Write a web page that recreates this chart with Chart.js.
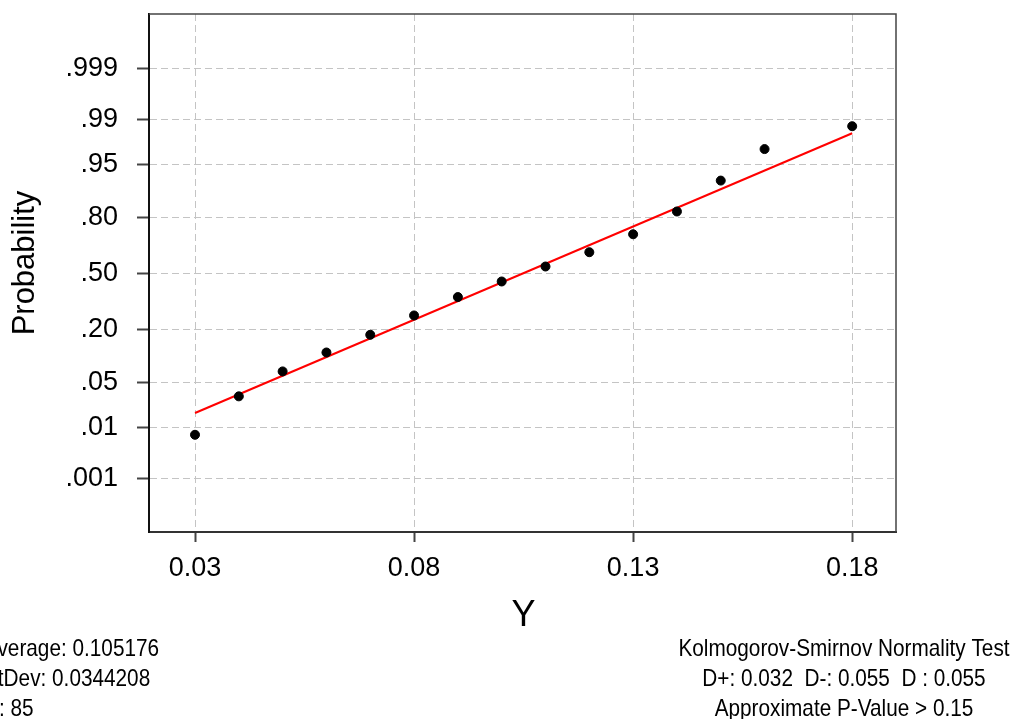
<!DOCTYPE html>
<html>
<head>
<meta charset="utf-8">
<script src="https://cdn.jsdelivr.net/npm/chart.js@4.4.1/dist/chart.umd.min.js"></script>
<style>
  html, body { margin: 0; padding: 0; background: #fff; }
  #wrap { width: 1011px; height: 719px; }
</style>
</head>
<body>
<div id="wrap"><canvas id="probPlot" width="1011" height="719"></canvas></div>
<script>
// observed values and their plotted cumulative probabilities
const yValues = [0.03, 0.04, 0.05, 0.06, 0.07, 0.08, 0.09, 0.10, 0.11, 0.12, 0.13, 0.14, 0.15, 0.16, 0.18];
const cumProb = [0.0075, 0.032, 0.070, 0.117, 0.178, 0.264, 0.362, 0.453, 0.543, 0.627, 0.724, 0.826, 0.920, 0.970, 0.987];

// fitted normal line (end points)
const fitX = [0.03, 0.18];
const fitProb = [0.0177, 0.983];

const probTicks = [0.001, 0.01, 0.05, 0.20, 0.50, 0.80, 0.95, 0.99, 0.999];
const probTickLabels = ['.001', '.01', '.05', '.20', '.50', '.80', '.95', '.99', '.999'];
const xTicks = [0.03, 0.08, 0.13, 0.18];

const statsLeft = ['Average: 0.105176', 'StDev: 0.0344208', 'N: 85'];
const statsRight = ['Kolmogorov-Smirnov Normality Test', 'D+: 0.032  D-: 0.055  D : 0.055', 'Approximate P-Value > 0.15'];

// inverse normal cdf (Acklam)
function probit(p) {
    const a = [-3.969683028665376e+01, 2.209460984245205e+02, -2.759285104469687e+02, 1.383577518672690e+02, -3.066479806614716e+01, 2.506628277459239e+00];
    const b = [-5.447609879822406e+01, 1.615858368580409e+02, -1.556989798598866e+02, 6.680131188771972e+01, -1.328068155288572e+01];
    const c = [-7.784894002430293e-03, -3.223964580411365e-01, -2.400758277161838e+00, -2.549671010229583e+00, 4.374664141464968e+00, 2.938163982698783e+00];
    const d = [7.784695709041462e-03, 3.224671290700398e-01, 2.445134137142996e+00, 3.754408661907416e+00];
    const pLow = 0.02425;
    let q, r;
    if (p < pLow) {
        q = Math.sqrt(-2 * Math.log(p));
        return (((((c[0]*q+c[1])*q+c[2])*q+c[3])*q+c[4])*q+c[5]) / ((((d[0]*q+d[1])*q+d[2])*q+d[3])*q+1);
    }
    if (p <= 1 - pLow) {
        q = p - 0.5; r = q * q;
        return (((((a[0]*r+a[1])*r+a[2])*r+a[3])*r+a[4])*r+a[5])*q / (((((b[0]*r+b[1])*r+b[2])*r+b[3])*r+b[4])*r+1);
    }
    q = Math.sqrt(-2 * Math.log(1 - p));
    return -(((((c[0]*q+c[1])*q+c[2])*q+c[3])*q+c[4])*q+c[5]) / ((((d[0]*q+d[1])*q+d[2])*q+d[3])*q+1);
}

const baseFont = '"Liberation Sans", Arial, sans-serif';
Chart.defaults.font.family = baseFont;
Chart.defaults.color = '#000';

const frameAndText = {
    id: 'frameAndText',
    afterDraw(chart) {
        const { ctx, chartArea: area } = chart;
        ctx.save();
        ctx.strokeStyle = '#444';
        ctx.lineWidth = 1.5;
        ctx.beginPath();
        ctx.moveTo(area.left, area.top);
        ctx.lineTo(area.right, area.top);
        ctx.lineTo(area.right, area.bottom);
        ctx.stroke();

        ctx.fillStyle = '#000';
        ctx.textBaseline = 'alphabetic';
        ctx.textAlign = 'center';
        ctx.font = '36px ' + baseFont;
        ctx.fillText('Y', (area.left + area.right) / 2 + 1, 626);

        ctx.save();
        ctx.translate(34, 263);
        ctx.rotate(-Math.PI / 2);
        ctx.font = '31px ' + baseFont;
        ctx.fillText('Probability', 0, 0);
        ctx.restore();

        // footer stats, drawn horizontally condensed
        const sx = 0.865;
        ctx.save();
        ctx.scale(sx, 1);
        ctx.font = '24px ' + baseFont;
        ctx.textAlign = 'left';
        statsLeft.forEach((t, i) => ctx.fillText(t, -16 / sx, 656 + i * 30));
        ctx.textAlign = 'center';
        statsRight.forEach((t, i) => ctx.fillText(t, 844 / sx, 656 + i * 30));
        ctx.restore();
        ctx.restore();
    }
};

const gridStyle = {
    color: '#c4c4c4',
    lineWidth: 1,
    tickBorderDash: [],
    tickColor: '#444',
    tickWidth: 2
};

new Chart(document.getElementById('probPlot').getContext('2d'), {
    type: 'scatter',
    data: {
        datasets: [{
            label: 'Fit',
            type: 'line',
            data: fitX.map((x, i) => ({ x: x, y: probit(fitProb[i]) })),
            borderColor: '#ff0000',
            borderWidth: 2,
            pointRadius: 0,
            fill: false,
            order: 2
        }, {
            label: 'Y',
            data: yValues.map((x, i) => ({ x: x, y: probit(cumProb[i]) })),
            backgroundColor: '#000',
            borderColor: '#000',
            pointRadius: 4.5,
            order: 1
        }]
    },
    options: {
        responsive: false,
        animation: false,
        layout: { padding: { left: 0, top: 14, right: 115, bottom: 0 } },
        plugins: {
            legend: { display: false },
            tooltip: { enabled: false }
        },
        scales: {
            x: {
                type: 'linear',
                min: 0.0195,
                max: 0.19,
                afterBuildTicks: (scale) => { scale.ticks = xTicks.map(v => ({ value: v })); },
                afterFit: (scale) => { scale.height = 187; scale.paddingLeft = 0; scale.paddingRight = 0; },
                ticks: {
                    autoSkip: false,
                    maxRotation: 0,
                    padding: 10,
                    font: { size: 27, lineHeight: 1.2 },
                    callback: (v) => v.toFixed(2)
                },
                grid: Object.assign({}, gridStyle, { tickLength: 10 }),
                border: { display: true, color: '#333', width: 2, dash: [7, 4] }
            },
            y: {
                type: 'linear',
                min: -3.9,
                max: 3.92,
                afterBuildTicks: (scale) => { scale.ticks = probTicks.map(p => ({ value: probit(p) })); },
                afterFit: (scale) => { scale.width = 149; scale.paddingTop = 0; scale.paddingBottom = 0; },
                ticks: {
                    autoSkip: false,
                    padding: 19,
                    font: { size: 27, lineHeight: 1.2 },
                    callback: (v, i) => probTickLabels[i]
                },
                grid: Object.assign({}, gridStyle, { tickLength: 12 }),
                border: { display: true, color: '#111', width: 2, dash: [7, 4] }
            }
        }
    },
    plugins: [frameAndText]
});
</script>
</body>
</html>
